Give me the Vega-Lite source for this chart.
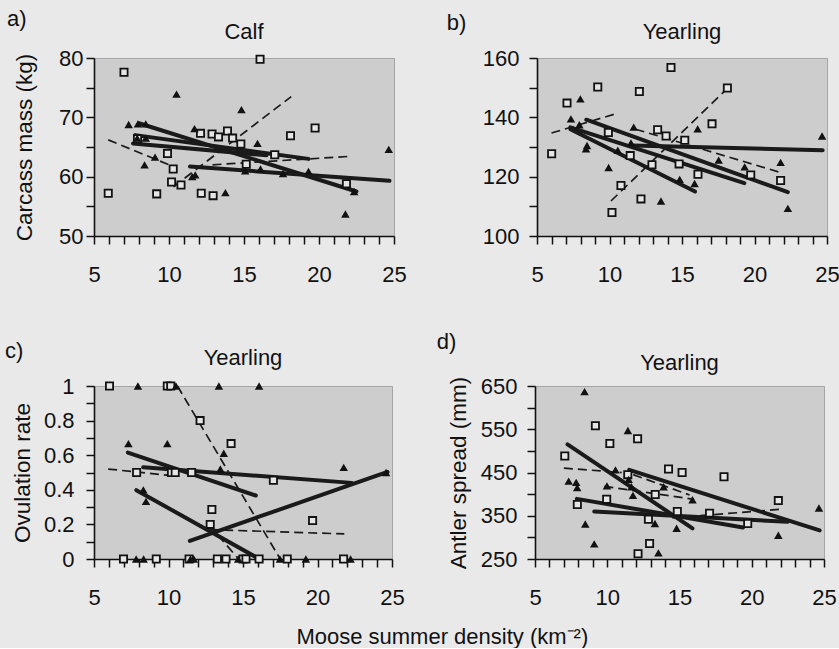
{
  "$schema": "https://vega.github.io/schema/vega-lite/v6.json",
  "datasets": {
    "a_pts": [
      {"x":5.95,"y":57.2,"s":"A"},{"x":7.0,"y":77.6,"s":"A"},{"x":7.9,"y":66.4,"s":"A"},{"x":9.18,"y":57.1,"s":"A"},{"x":9.9,"y":63.9,"s":"A"},{"x":10.17,"y":59.1,"s":"A"},{"x":10.28,"y":61.3,"s":"A"},{"x":10.8,"y":58.6,"s":"A"},{"x":12.1,"y":67.3,"s":"A"},{"x":12.15,"y":57.2,"s":"A"},{"x":12.87,"y":67.2,"s":"A"},{"x":12.94,"y":56.8,"s":"A"},{"x":13.3,"y":66.7,"s":"A"},{"x":13.9,"y":67.7,"s":"A"},{"x":14.24,"y":66.5,"s":"A"},{"x":14.79,"y":65.5,"s":"A"},{"x":15.15,"y":62.1,"s":"A"},{"x":16.07,"y":79.8,"s":"A"},{"x":17.05,"y":63.7,"s":"A"},{"x":18.1,"y":66.9,"s":"A"},{"x":19.74,"y":68.2,"s":"A"},{"x":21.83,"y":58.8,"s":"A"},
      {"x":7.31,"y":68.8,"s":"B"},{"x":7.93,"y":68.9,"s":"B"},{"x":8.45,"y":68.9,"s":"B"},{"x":7.88,"y":66.5,"s":"B"},{"x":8.45,"y":66.5,"s":"B"},{"x":8.37,"y":62.0,"s":"B"},{"x":9.07,"y":63.3,"s":"B"},{"x":10.5,"y":73.9,"s":"B"},{"x":11.55,"y":60.0,"s":"B"},{"x":11.75,"y":60.3,"s":"B"},{"x":11.7,"y":68.1,"s":"B"},{"x":13.76,"y":57.3,"s":"B"},{"x":14.83,"y":71.3,"s":"B"},{"x":15.08,"y":61.0,"s":"B"},{"x":15.9,"y":65.6,"s":"B"},{"x":16.1,"y":61.3,"s":"B"},{"x":17.6,"y":60.5,"s":"B"},{"x":19.3,"y":60.9,"s":"B"},{"x":21.76,"y":53.7,"s":"B"},{"x":22.34,"y":57.5,"s":"B"},{"x":24.65,"y":64.6,"s":"B"}
    ],
    "a_fit": [
      {"x":8.0,"y":69.0,"x2":22.5,"y2":57.5},{"x":7.75,"y":67.0,"x2":19.3,"y2":63.0},{"x":7.6,"y":65.6,"x2":16.5,"y2":63.6},{"x":11.4,"y":61.7,"x2":24.7,"y2":59.3}
    ],
    "a_dash": [
      {"x":5.95,"y":66.2,"x2":10.1,"y2":61.9},{"x":10.3,"y":58.3,"x2":18.15,"y2":73.5},{"x":12.9,"y":62.0,"x2":21.9,"y2":63.4}
    ],
    "b_pts": [
      {"x":6.01,"y":127.7,"s":"A"},{"x":7.07,"y":144.8,"s":"A"},{"x":9.19,"y":150.2,"s":"A"},{"x":9.92,"y":134.9,"s":"A"},{"x":10.17,"y":107.9,"s":"A"},{"x":10.79,"y":117,"s":"A"},{"x":11.43,"y":127.1,"s":"A"},{"x":12.06,"y":148.7,"s":"A"},{"x":12.17,"y":112.5,"s":"A"},{"x":12.93,"y":124.0,"s":"A"},{"x":13.32,"y":135.8,"s":"A"},{"x":13.9,"y":133.7,"s":"A"},{"x":14.24,"y":156.8,"s":"A"},{"x":14.8,"y":124.3,"s":"A"},{"x":15.19,"y":132.3,"s":"A"},{"x":16.1,"y":120.8,"s":"A"},{"x":17.07,"y":137.8,"s":"A"},{"x":18.13,"y":149.9,"s":"A"},{"x":19.74,"y":120.6,"s":"A"},{"x":21.8,"y":118.7,"s":"A"},
      {"x":7.34,"y":139.5,"s":"B"},{"x":7.99,"y":146.2,"s":"B"},{"x":7.92,"y":137.5,"s":"B"},{"x":8.38,"y":129.4,"s":"B"},{"x":8.45,"y":130.5,"s":"B"},{"x":9.94,"y":123.1,"s":"B"},{"x":10.57,"y":128.9,"s":"B"},{"x":11.48,"y":131.4,"s":"B"},{"x":11.67,"y":136.7,"s":"B"},{"x":13.55,"y":111.8,"s":"B"},{"x":14.84,"y":119.1,"s":"B"},{"x":15.87,"y":117.7,"s":"B"},{"x":16.08,"y":136.1,"s":"B"},{"x":17.53,"y":125.6,"s":"B"},{"x":19.32,"y":123.3,"s":"B"},{"x":21.8,"y":124.8,"s":"B"},{"x":22.3,"y":109.3,"s":"B"},{"x":24.66,"y":133.7,"s":"B"}
    ],
    "b_fit": [
      {"x":11.6,"y":130.5,"x2":24.7,"y2":128.9},{"x":7.3,"y":136.6,"x2":19.3,"y2":117.8},{"x":8.4,"y":139.2,"x2":22.3,"y2":114.8},{"x":7.3,"y":136.0,"x2":15.9,"y2":115.0}
    ],
    "b_dash": [
      {"x":6.0,"y":134.7,"x2":10.3,"y2":141.0},{"x":10.1,"y":111.8,"x2":18.1,"y2":149.6},{"x":11.8,"y":136.0,"x2":21.8,"y2":121.4}
    ],
    "c_pts": [
      {"x":6.04,"y":1,"s":"A"},{"x":9.92,"y":1,"s":"A"},{"x":10.15,"y":1,"s":"A"},{"x":12.12,"y":0.8,"s":"A"},{"x":14.2,"y":0.667,"s":"A"},{"x":7.86,"y":0.5,"s":"A"},{"x":10.2,"y":0.5,"s":"A"},{"x":10.45,"y":0.5,"s":"A"},{"x":11.55,"y":0.5,"s":"A"},{"x":17.04,"y":0.455,"s":"A"},{"x":12.91,"y":0.286,"s":"A"},{"x":12.8,"y":0.2,"s":"A"},{"x":19.67,"y":0.222,"s":"A"},{"x":6.98,"y":0,"s":"A"},{"x":9.18,"y":0,"s":"A"},{"x":11.38,"y":0,"s":"A"},{"x":13.28,"y":0,"s":"A"},{"x":13.86,"y":0,"s":"A"},{"x":15.0,"y":0,"s":"A"},{"x":15.2,"y":0,"s":"A"},{"x":16.08,"y":0,"s":"A"},{"x":17.97,"y":0,"s":"A"},{"x":21.75,"y":0,"s":"A"},
      {"x":7.95,"y":1,"s":"B"},{"x":10.5,"y":1,"s":"B"},{"x":13.38,"y":1,"s":"B"},{"x":16.08,"y":1,"s":"B"},{"x":7.31,"y":0.667,"s":"B"},{"x":9.92,"y":0.667,"s":"B"},{"x":13.71,"y":0.611,"s":"B"},{"x":13.48,"y":0.52,"s":"B"},{"x":21.76,"y":0.53,"s":"B"},{"x":24.6,"y":0.5,"s":"B"},{"x":8.31,"y":0.4,"s":"B"},{"x":8.49,"y":0.333,"s":"B"},{"x":7.83,"y":0,"s":"B"},{"x":8.33,"y":0,"s":"B"},{"x":11.47,"y":0,"s":"B"},{"x":11.7,"y":0,"s":"B"},{"x":14.68,"y":0,"s":"B"},{"x":17.48,"y":0,"s":"B"},{"x":19.22,"y":0,"s":"B"},{"x":22.22,"y":0,"s":"B"}
    ],
    "c_fit": [
      {"x":7.27,"y":0.615,"x2":15.86,"y2":0.367},{"x":8.3,"y":0.53,"x2":22.3,"y2":0.44},{"x":7.84,"y":0.398,"x2":16.1,"y2":0.0},{"x":11.43,"y":0.105,"x2":24.7,"y2":0.503}
    ],
    "c_dash": [
      {"x":10.6,"y":1.0,"x2":17.5,"y2":0.0},{"x":5.95,"y":0.52,"x2":10.1,"y2":0.483},{"x":12.8,"y":0.17,"x2":21.8,"y2":0.145},{"x":12.7,"y":0.2,"x2":14.7,"y2":0.0}
    ],
    "d_pts": [
      {"x":7.06,"y":488,"s":"A"},{"x":7.93,"y":376,"s":"A"},{"x":9.18,"y":558,"s":"A"},{"x":9.96,"y":388,"s":"A"},{"x":10.18,"y":517,"s":"A"},{"x":11.42,"y":445,"s":"A"},{"x":12.1,"y":528,"s":"A"},{"x":12.13,"y":262,"s":"A"},{"x":12.85,"y":342,"s":"A"},{"x":12.93,"y":286,"s":"A"},{"x":13.32,"y":399,"s":"A"},{"x":14.24,"y":458,"s":"A"},{"x":14.85,"y":360,"s":"A"},{"x":15.18,"y":450,"s":"A"},{"x":17.08,"y":356,"s":"A"},{"x":18.08,"y":440,"s":"A"},{"x":19.72,"y":332,"s":"A"},{"x":21.84,"y":385,"s":"A"},
      {"x":8.43,"y":637,"s":"B"},{"x":11.43,"y":547,"s":"B"},{"x":7.33,"y":430,"s":"B"},{"x":7.85,"y":427,"s":"B"},{"x":7.92,"y":415,"s":"B"},{"x":8.48,"y":331,"s":"B"},{"x":9.1,"y":285,"s":"B"},{"x":13.54,"y":264,"s":"B"},{"x":10.57,"y":456,"s":"B"},{"x":11.48,"y":434,"s":"B"},{"x":11.67,"y":417,"s":"B"},{"x":11.78,"y":397,"s":"B"},{"x":9.98,"y":419,"s":"B"},{"x":13.3,"y":332,"s":"B"},{"x":13.9,"y":417,"s":"B"},{"x":14.8,"y":321,"s":"B"},{"x":15.9,"y":387,"s":"B"},{"x":21.84,"y":305,"s":"B"},{"x":24.65,"y":368,"s":"B"}
    ],
    "d_fit": [
      {"x":7.25,"y":515,"x2":15.9,"y2":321},{"x":11.52,"y":456,"x2":24.7,"y2":316},{"x":7.9,"y":389,"x2":19.4,"y2":323},{"x":9.1,"y":360,"x2":22.47,"y2":336}
    ],
    "d_dash": [
      {"x":7.0,"y":460,"x2":11.0,"y2":450},{"x":9.8,"y":418,"x2":16.0,"y2":388},{"x":11.8,"y":445,"x2":15.7,"y2":398},{"x":14.5,"y":345,"x2":22.0,"y2":365}
    ]
  },
  "title": {"text": "Moose summer density (km⁻²)", "orient": "bottom", "anchor": "middle", "offset": 18, "dx": 20, "fontSize": 22},
  "spacing": 44,
  "vconcat": [
    {
      "spacing": 39,
      "hconcat": [
        {
          "title": {"text": "a)", "anchor": "start", "offset": -10, "dx": -6},
          "vconcat": [
            {
              "width": 300, "height": 178,
              "title": {"text": "Calf", "anchor": "middle", "frame": "group", "offset": 3},
              "encoding": {
                "x": {"field": "x", "type": "quantitative", "scale": {"domain": [5, 25], "nice": false, "zero": false},
                      "axis": {"title": null, "tickColor": "#111111", "domainColor": "#111111", "values": [5,6,7,8,9,10,11,12,13,14,15,16,17,18,19,20,21,22,23,24,25], "labelExpr": "datum.value % 5 === 0 ? datum.label : ''", "labelFlush": false, "labelOverlap": false, "labelPadding": 20}},
                "y": {"field": "y", "type": "quantitative", "scale": {"domain": [50, 80], "nice": false, "zero": false},
                      "axis": {"title": "Carcass mass (kg)", "tickColor": "#111111", "domainColor": "#111111", "values": [50,55,60,65,70,75,80], "labelExpr": "datum.value % 10 === 0 ? datum.label : ''", "labelOverlap": false, "labelPadding": 3, "titlePadding": 22}}
              },
              "layer": [
                {"data": {"name": "a_fit"}, "mark": {"type": "rule", "color": "#1a1a1a", "strokeWidth": 4, "strokeCap": "round"}, "encoding": {"x2": {"field": "x2"}, "y2": {"field": "y2"}}},
                {"data": {"name": "a_dash"}, "mark": {"type": "rule", "color": "#1a1a1a", "strokeWidth": 1.7, "strokeDash": [9, 5]}, "encoding": {"x2": {"field": "x2"}, "y2": {"field": "y2"}}},
                {"data": {"name": "a_pts"}, "transform": [{"filter": "datum.s === 'A'"}], "mark": {"type": "point", "shape": "square", "filled": true, "fill": "#e6e6e6", "stroke": "#111", "strokeWidth": 1.8, "size": 52, "opacity": 1}},
                {"data": {"name": "a_pts"}, "transform": [{"filter": "datum.s === 'B'"}], "mark": {"type": "point", "shape": "triangle-up", "filled": true, "color": "#111", "size": 72, "opacity": 1}}
              ]
            }
          ]
        },
        {
          "title": {"text": "b)", "anchor": "start", "offset": -14, "dx": -35},
          "vconcat": [
            {
              "width": 290, "height": 178,
              "title": {"text": "Yearling", "anchor": "middle", "frame": "group", "offset": 3},
              "encoding": {
                "x": {"field": "x", "type": "quantitative", "scale": {"domain": [5, 25], "nice": false, "zero": false},
                      "axis": {"title": null, "tickColor": "#111111", "domainColor": "#111111", "values": [5,6,7,8,9,10,11,12,13,14,15,16,17,18,19,20,21,22,23,24,25], "labelExpr": "datum.value % 5 === 0 ? datum.label : ''", "labelFlush": false, "labelOverlap": false, "labelPadding": 20}},
                "y": {"field": "y", "type": "quantitative", "scale": {"domain": [100, 160], "nice": false, "zero": false},
                      "axis": {"title": null, "tickColor": "#111111", "domainColor": "#111111", "values": [100,110,120,130,140,150,160], "labelExpr": "datum.value % 20 === 0 ? datum.label : ''", "labelOverlap": false, "labelPadding": 10}}
              },
              "layer": [
                {"data": {"name": "b_fit"}, "mark": {"type": "rule", "color": "#1a1a1a", "strokeWidth": 4, "strokeCap": "round"}, "encoding": {"x2": {"field": "x2"}, "y2": {"field": "y2"}}},
                {"data": {"name": "b_dash"}, "mark": {"type": "rule", "color": "#1a1a1a", "strokeWidth": 1.7, "strokeDash": [9, 5]}, "encoding": {"x2": {"field": "x2"}, "y2": {"field": "y2"}}},
                {"data": {"name": "b_pts"}, "transform": [{"filter": "datum.s === 'A'"}], "mark": {"type": "point", "shape": "square", "filled": true, "fill": "#e6e6e6", "stroke": "#111", "strokeWidth": 1.8, "size": 52, "opacity": 1}},
                {"data": {"name": "b_pts"}, "transform": [{"filter": "datum.s === 'B'"}], "mark": {"type": "point", "shape": "triangle-up", "filled": true, "color": "#111", "size": 72, "opacity": 1}}
              ]
            }
          ]
        }
      ]
    },
    {
      "spacing": 31,
      "hconcat": [
        {
          "title": {"text": "c)", "anchor": "start", "offset": -16, "dx": -6},
          "vconcat": [
            {
              "width": 298, "height": 173,
              "title": {"text": "Yearling", "anchor": "middle", "frame": "group", "offset": 5},
              "encoding": {
                "x": {"field": "x", "type": "quantitative", "scale": {"domain": [5, 25], "nice": false, "zero": false},
                      "axis": {"title": null, "tickColor": "#111111", "domainColor": "#111111", "values": [5,6,7,8,9,10,11,12,13,14,15,16,17,18,19,20,21,22,23,24,25], "labelExpr": "datum.value % 5 === 0 ? datum.label : ''", "labelFlush": false, "labelOverlap": false, "labelPadding": 20}},
                "y": {"field": "y", "type": "quantitative", "scale": {"domain": [0, 1], "nice": false, "zero": false},
                      "axis": {"title": "Ovulation rate", "tickColor": "#111111", "domainColor": "#111111", "values": [0,0.1,0.2,0.3,0.4,0.5,0.6,0.7,0.8,0.9,1], "labelExpr": "round(datum.value * 10) % 2 === 0 ? format(datum.value, '~g') : ''", "labelOverlap": false, "labelPadding": 12, "titlePadding": 9}}
              },
              "layer": [
                {"data": {"name": "c_fit"}, "mark": {"type": "rule", "color": "#1a1a1a", "strokeWidth": 4, "strokeCap": "round"}, "encoding": {"x2": {"field": "x2"}, "y2": {"field": "y2"}}},
                {"data": {"name": "c_dash"}, "mark": {"type": "rule", "color": "#1a1a1a", "strokeWidth": 1.7, "strokeDash": [9, 5]}, "encoding": {"x2": {"field": "x2"}, "y2": {"field": "y2"}}},
                {"data": {"name": "c_pts"}, "transform": [{"filter": "datum.s === 'A'"}], "mark": {"type": "point", "shape": "square", "filled": true, "fill": "#e6e6e6", "stroke": "#111", "strokeWidth": 1.8, "size": 52, "opacity": 1}},
                {"data": {"name": "c_pts"}, "transform": [{"filter": "datum.s === 'B'"}], "mark": {"type": "point", "shape": "triangle-up", "filled": true, "color": "#111", "size": 72, "opacity": 1}}
              ]
            }
          ]
        },
        {
          "title": {"text": "d)", "anchor": "start", "offset": -2, "dx": -10},
          "vconcat": [
            {
              "width": 289, "height": 173,
              "title": {"text": "Yearling", "anchor": "middle", "frame": "group", "offset": 0},
              "encoding": {
                "x": {"field": "x", "type": "quantitative", "scale": {"domain": [5, 25], "nice": false, "zero": false},
                      "axis": {"title": null, "tickColor": "#111111", "domainColor": "#111111", "values": [5,6,7,8,9,10,11,12,13,14,15,16,17,18,19,20,21,22,23,24,25], "labelExpr": "datum.value % 5 === 0 ? datum.label : ''", "labelFlush": false, "labelOverlap": false, "labelPadding": 20}},
                "y": {"field": "y", "type": "quantitative", "scale": {"domain": [250, 650], "nice": false, "zero": false},
                      "axis": {"title": "Antler spread (mm)", "tickColor": "#111111", "domainColor": "#111111", "values": [250,300,350,400,450,500,550,600,650], "labelExpr": "(datum.value - 250) % 100 === 0 ? datum.label : ''", "labelOverlap": false, "labelPadding": 10, "titlePadding": 10}}
              },
              "layer": [
                {"data": {"name": "d_fit"}, "mark": {"type": "rule", "color": "#1a1a1a", "strokeWidth": 4, "strokeCap": "round"}, "encoding": {"x2": {"field": "x2"}, "y2": {"field": "y2"}}},
                {"data": {"name": "d_dash"}, "mark": {"type": "rule", "color": "#1a1a1a", "strokeWidth": 1.7, "strokeDash": [9, 5]}, "encoding": {"x2": {"field": "x2"}, "y2": {"field": "y2"}}},
                {"data": {"name": "d_pts"}, "transform": [{"filter": "datum.s === 'A'"}], "mark": {"type": "point", "shape": "square", "filled": true, "fill": "#e6e6e6", "stroke": "#111", "strokeWidth": 1.8, "size": 52, "opacity": 1}},
                {"data": {"name": "d_pts"}, "transform": [{"filter": "datum.s === 'B'"}], "mark": {"type": "point", "shape": "triangle-up", "filled": true, "color": "#111", "size": 72, "opacity": 1}}
              ]
            }
          ]
        }
      ]
    }
  ],
  "config": {
    "background": "#e9e9e9",
    "padding": {"left": 4, "top": 7, "right": 5, "bottom": 0},
    "font": "Liberation Sans",
    "view": {"fill": "#cdcdcd", "stroke": "#6e6e6e", "strokeDash": [1, 1]},
    "axis": {"labelFont": "Liberation Sans", "titleFont": "Liberation Sans", "labelFontSize": 22, "titleFontSize": 22.5, "titleFontWeight": "normal", "labelColor": "#111", "titleColor": "#111", "tickSize": 8, "grid": false, "domainWidth": 1.6, "tickWidth": 1.5},
    "title": {"font": "Liberation Sans", "fontSize": 22, "fontWeight": "normal", "color": "#111"}
  }
}
